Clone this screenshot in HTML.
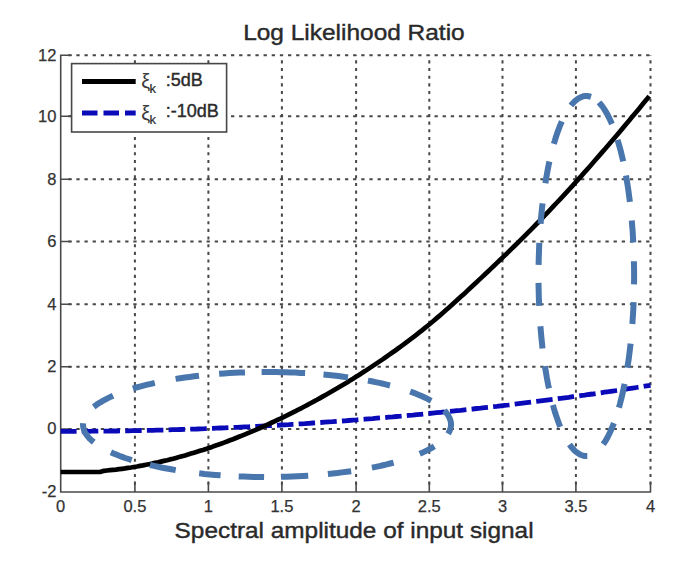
<!DOCTYPE html>
<html><head><meta charset="utf-8"><style>html,body{margin:0;padding:0;background:#fff;}svg{display:block;}</style></head>
<body>
<svg width="685" height="571" viewBox="0 0 685 571">
<rect width="685" height="571" fill="#fff"/>
<path d="M68.20 55.3H71.50M76.34 55.3H79.64M84.48 55.3H87.78M92.62 55.3H95.92M100.76 55.3H104.06M108.90 55.3H112.20M117.04 55.3H120.34M125.18 55.3H128.48M133.32 55.3H136.62M141.46 55.3H144.76M149.60 55.3H152.90M157.74 55.3H161.04M165.88 55.3H169.18M174.02 55.3H177.32M182.16 55.3H185.46M190.30 55.3H193.60M198.44 55.3H201.74M206.58 55.3H209.88M214.72 55.3H218.02M222.86 55.3H226.16M231.00 55.3H234.30M239.14 55.3H242.44M247.28 55.3H250.58M255.42 55.3H258.72M263.56 55.3H266.86M271.70 55.3H275.00M279.84 55.3H283.14M287.98 55.3H291.28M296.12 55.3H299.42M304.26 55.3H307.56M312.40 55.3H315.70M320.54 55.3H323.84M328.68 55.3H331.98M336.82 55.3H340.12M344.96 55.3H348.26M353.10 55.3H356.40M361.24 55.3H364.54M369.38 55.3H372.68M377.52 55.3H380.82M385.66 55.3H388.96M393.80 55.3H397.10M401.94 55.3H405.24M410.08 55.3H413.38M418.22 55.3H421.52M426.36 55.3H429.66M434.50 55.3H437.80M442.64 55.3H445.94M450.78 55.3H454.08M458.92 55.3H462.22M467.06 55.3H470.36M475.20 55.3H478.50M483.34 55.3H486.64M491.48 55.3H494.78M499.62 55.3H502.92M507.76 55.3H511.06M515.90 55.3H519.20M524.04 55.3H527.34M532.18 55.3H535.48M540.32 55.3H543.62M548.46 55.3H551.76M556.60 55.3H559.90M564.74 55.3H568.04M572.88 55.3H576.18M581.02 55.3H584.32M589.16 55.3H592.46M597.30 55.3H600.60M605.44 55.3H608.74M613.58 55.3H616.88M621.72 55.3H625.02M629.86 55.3H633.16M638.00 55.3H641.30M646.14 55.3H649.44M68.20 116.3H71.50M76.34 116.3H79.64M84.48 116.3H87.78M92.62 116.3H95.92M100.76 116.3H104.06M108.90 116.3H112.20M117.04 116.3H120.34M125.18 116.3H128.48M133.32 116.3H136.62M141.46 116.3H144.76M149.60 116.3H152.90M157.74 116.3H161.04M165.88 116.3H169.18M174.02 116.3H177.32M182.16 116.3H185.46M190.30 116.3H193.60M198.44 116.3H201.74M206.58 116.3H209.88M214.72 116.3H218.02M222.86 116.3H226.16M231.00 116.3H234.30M239.14 116.3H242.44M247.28 116.3H250.58M255.42 116.3H258.72M263.56 116.3H266.86M271.70 116.3H275.00M279.84 116.3H283.14M287.98 116.3H291.28M296.12 116.3H299.42M304.26 116.3H307.56M312.40 116.3H315.70M320.54 116.3H323.84M328.68 116.3H331.98M336.82 116.3H340.12M344.96 116.3H348.26M353.10 116.3H356.40M361.24 116.3H364.54M369.38 116.3H372.68M377.52 116.3H380.82M385.66 116.3H388.96M393.80 116.3H397.10M401.94 116.3H405.24M410.08 116.3H413.38M418.22 116.3H421.52M426.36 116.3H429.66M434.50 116.3H437.80M442.64 116.3H445.94M450.78 116.3H454.08M458.92 116.3H462.22M467.06 116.3H470.36M475.20 116.3H478.50M483.34 116.3H486.64M491.48 116.3H494.78M499.62 116.3H502.92M507.76 116.3H511.06M515.90 116.3H519.20M524.04 116.3H527.34M532.18 116.3H535.48M540.32 116.3H543.62M548.46 116.3H551.76M556.60 116.3H559.90M564.74 116.3H568.04M572.88 116.3H576.18M581.02 116.3H584.32M589.16 116.3H592.46M597.30 116.3H600.60M605.44 116.3H608.74M613.58 116.3H616.88M621.72 116.3H625.02M629.86 116.3H633.16M638.00 116.3H641.30M646.14 116.3H649.44M68.20 179.2H71.50M76.34 179.2H79.64M84.48 179.2H87.78M92.62 179.2H95.92M100.76 179.2H104.06M108.90 179.2H112.20M117.04 179.2H120.34M125.18 179.2H128.48M133.32 179.2H136.62M141.46 179.2H144.76M149.60 179.2H152.90M157.74 179.2H161.04M165.88 179.2H169.18M174.02 179.2H177.32M182.16 179.2H185.46M190.30 179.2H193.60M198.44 179.2H201.74M206.58 179.2H209.88M214.72 179.2H218.02M222.86 179.2H226.16M231.00 179.2H234.30M239.14 179.2H242.44M247.28 179.2H250.58M255.42 179.2H258.72M263.56 179.2H266.86M271.70 179.2H275.00M279.84 179.2H283.14M287.98 179.2H291.28M296.12 179.2H299.42M304.26 179.2H307.56M312.40 179.2H315.70M320.54 179.2H323.84M328.68 179.2H331.98M336.82 179.2H340.12M344.96 179.2H348.26M353.10 179.2H356.40M361.24 179.2H364.54M369.38 179.2H372.68M377.52 179.2H380.82M385.66 179.2H388.96M393.80 179.2H397.10M401.94 179.2H405.24M410.08 179.2H413.38M418.22 179.2H421.52M426.36 179.2H429.66M434.50 179.2H437.80M442.64 179.2H445.94M450.78 179.2H454.08M458.92 179.2H462.22M467.06 179.2H470.36M475.20 179.2H478.50M483.34 179.2H486.64M491.48 179.2H494.78M499.62 179.2H502.92M507.76 179.2H511.06M515.90 179.2H519.20M524.04 179.2H527.34M532.18 179.2H535.48M540.32 179.2H543.62M548.46 179.2H551.76M556.60 179.2H559.90M564.74 179.2H568.04M572.88 179.2H576.18M581.02 179.2H584.32M589.16 179.2H592.46M597.30 179.2H600.60M605.44 179.2H608.74M613.58 179.2H616.88M621.72 179.2H625.02M629.86 179.2H633.16M638.00 179.2H641.30M646.14 179.2H649.44M68.20 241.5H71.50M76.34 241.5H79.64M84.48 241.5H87.78M92.62 241.5H95.92M100.76 241.5H104.06M108.90 241.5H112.20M117.04 241.5H120.34M125.18 241.5H128.48M133.32 241.5H136.62M141.46 241.5H144.76M149.60 241.5H152.90M157.74 241.5H161.04M165.88 241.5H169.18M174.02 241.5H177.32M182.16 241.5H185.46M190.30 241.5H193.60M198.44 241.5H201.74M206.58 241.5H209.88M214.72 241.5H218.02M222.86 241.5H226.16M231.00 241.5H234.30M239.14 241.5H242.44M247.28 241.5H250.58M255.42 241.5H258.72M263.56 241.5H266.86M271.70 241.5H275.00M279.84 241.5H283.14M287.98 241.5H291.28M296.12 241.5H299.42M304.26 241.5H307.56M312.40 241.5H315.70M320.54 241.5H323.84M328.68 241.5H331.98M336.82 241.5H340.12M344.96 241.5H348.26M353.10 241.5H356.40M361.24 241.5H364.54M369.38 241.5H372.68M377.52 241.5H380.82M385.66 241.5H388.96M393.80 241.5H397.10M401.94 241.5H405.24M410.08 241.5H413.38M418.22 241.5H421.52M426.36 241.5H429.66M434.50 241.5H437.80M442.64 241.5H445.94M450.78 241.5H454.08M458.92 241.5H462.22M467.06 241.5H470.36M475.20 241.5H478.50M483.34 241.5H486.64M491.48 241.5H494.78M499.62 241.5H502.92M507.76 241.5H511.06M515.90 241.5H519.20M524.04 241.5H527.34M532.18 241.5H535.48M540.32 241.5H543.62M548.46 241.5H551.76M556.60 241.5H559.90M564.74 241.5H568.04M572.88 241.5H576.18M581.02 241.5H584.32M589.16 241.5H592.46M597.30 241.5H600.60M605.44 241.5H608.74M613.58 241.5H616.88M621.72 241.5H625.02M629.86 241.5H633.16M638.00 241.5H641.30M646.14 241.5H649.44M68.20 304.2H71.50M76.34 304.2H79.64M84.48 304.2H87.78M92.62 304.2H95.92M100.76 304.2H104.06M108.90 304.2H112.20M117.04 304.2H120.34M125.18 304.2H128.48M133.32 304.2H136.62M141.46 304.2H144.76M149.60 304.2H152.90M157.74 304.2H161.04M165.88 304.2H169.18M174.02 304.2H177.32M182.16 304.2H185.46M190.30 304.2H193.60M198.44 304.2H201.74M206.58 304.2H209.88M214.72 304.2H218.02M222.86 304.2H226.16M231.00 304.2H234.30M239.14 304.2H242.44M247.28 304.2H250.58M255.42 304.2H258.72M263.56 304.2H266.86M271.70 304.2H275.00M279.84 304.2H283.14M287.98 304.2H291.28M296.12 304.2H299.42M304.26 304.2H307.56M312.40 304.2H315.70M320.54 304.2H323.84M328.68 304.2H331.98M336.82 304.2H340.12M344.96 304.2H348.26M353.10 304.2H356.40M361.24 304.2H364.54M369.38 304.2H372.68M377.52 304.2H380.82M385.66 304.2H388.96M393.80 304.2H397.10M401.94 304.2H405.24M410.08 304.2H413.38M418.22 304.2H421.52M426.36 304.2H429.66M434.50 304.2H437.80M442.64 304.2H445.94M450.78 304.2H454.08M458.92 304.2H462.22M467.06 304.2H470.36M475.20 304.2H478.50M483.34 304.2H486.64M491.48 304.2H494.78M499.62 304.2H502.92M507.76 304.2H511.06M515.90 304.2H519.20M524.04 304.2H527.34M532.18 304.2H535.48M540.32 304.2H543.62M548.46 304.2H551.76M556.60 304.2H559.90M564.74 304.2H568.04M572.88 304.2H576.18M581.02 304.2H584.32M589.16 304.2H592.46M597.30 304.2H600.60M605.44 304.2H608.74M613.58 304.2H616.88M621.72 304.2H625.02M629.86 304.2H633.16M638.00 304.2H641.30M646.14 304.2H649.44M68.20 366.7H71.50M76.34 366.7H79.64M84.48 366.7H87.78M92.62 366.7H95.92M100.76 366.7H104.06M108.90 366.7H112.20M117.04 366.7H120.34M125.18 366.7H128.48M133.32 366.7H136.62M141.46 366.7H144.76M149.60 366.7H152.90M157.74 366.7H161.04M165.88 366.7H169.18M174.02 366.7H177.32M182.16 366.7H185.46M190.30 366.7H193.60M198.44 366.7H201.74M206.58 366.7H209.88M214.72 366.7H218.02M222.86 366.7H226.16M231.00 366.7H234.30M239.14 366.7H242.44M247.28 366.7H250.58M255.42 366.7H258.72M263.56 366.7H266.86M271.70 366.7H275.00M279.84 366.7H283.14M287.98 366.7H291.28M296.12 366.7H299.42M304.26 366.7H307.56M312.40 366.7H315.70M320.54 366.7H323.84M328.68 366.7H331.98M336.82 366.7H340.12M344.96 366.7H348.26M353.10 366.7H356.40M361.24 366.7H364.54M369.38 366.7H372.68M377.52 366.7H380.82M385.66 366.7H388.96M393.80 366.7H397.10M401.94 366.7H405.24M410.08 366.7H413.38M418.22 366.7H421.52M426.36 366.7H429.66M434.50 366.7H437.80M442.64 366.7H445.94M450.78 366.7H454.08M458.92 366.7H462.22M467.06 366.7H470.36M475.20 366.7H478.50M483.34 366.7H486.64M491.48 366.7H494.78M499.62 366.7H502.92M507.76 366.7H511.06M515.90 366.7H519.20M524.04 366.7H527.34M532.18 366.7H535.48M540.32 366.7H543.62M548.46 366.7H551.76M556.60 366.7H559.90M564.74 366.7H568.04M572.88 366.7H576.18M581.02 366.7H584.32M589.16 366.7H592.46M597.30 366.7H600.60M605.44 366.7H608.74M613.58 366.7H616.88M621.72 366.7H625.02M629.86 366.7H633.16M638.00 366.7H641.30M646.14 366.7H649.44M68.20 429H71.50M76.34 429H79.64M84.48 429H87.78M92.62 429H95.92M100.76 429H104.06M108.90 429H112.20M117.04 429H120.34M125.18 429H128.48M133.32 429H136.62M141.46 429H144.76M149.60 429H152.90M157.74 429H161.04M165.88 429H169.18M174.02 429H177.32M182.16 429H185.46M190.30 429H193.60M198.44 429H201.74M206.58 429H209.88M214.72 429H218.02M222.86 429H226.16M231.00 429H234.30M239.14 429H242.44M247.28 429H250.58M255.42 429H258.72M263.56 429H266.86M271.70 429H275.00M279.84 429H283.14M287.98 429H291.28M296.12 429H299.42M304.26 429H307.56M312.40 429H315.70M320.54 429H323.84M328.68 429H331.98M336.82 429H340.12M344.96 429H348.26M353.10 429H356.40M361.24 429H364.54M369.38 429H372.68M377.52 429H380.82M385.66 429H388.96M393.80 429H397.10M401.94 429H405.24M410.08 429H413.38M418.22 429H421.52M426.36 429H429.66M434.50 429H437.80M442.64 429H445.94M450.78 429H454.08M458.92 429H462.22M467.06 429H470.36M475.20 429H478.50M483.34 429H486.64M491.48 429H494.78M499.62 429H502.92M507.76 429H511.06M515.90 429H519.20M524.04 429H527.34M532.18 429H535.48M540.32 429H543.62M548.46 429H551.76M556.60 429H559.90M564.74 429H568.04M572.88 429H576.18M581.02 429H584.32M589.16 429H592.46M597.30 429H600.60M605.44 429H608.74M613.58 429H616.88M621.72 429H625.02M629.86 429H633.16M638.00 429H641.30M646.14 429H649.44M134.9 484.73V481.63M134.9 477.07V473.97M134.9 469.41V466.31M134.9 461.75V458.65M134.9 454.09V450.99M134.9 446.43V443.33M134.9 438.77V435.67M134.9 431.11V428.01M134.9 423.45V420.35M134.9 415.79V412.69M134.9 408.13V405.03M134.9 400.47V397.37M134.9 392.81V389.71M134.9 385.15V382.05M134.9 377.49V374.39M134.9 369.83V366.73M134.9 362.17V359.07M134.9 354.51V351.41M134.9 346.85V343.75M134.9 339.19V336.09M134.9 331.53V328.43M134.9 323.87V320.77M134.9 316.21V313.11M134.9 308.55V305.45M134.9 300.89V297.79M134.9 293.23V290.13M134.9 285.57V282.47M134.9 277.91V274.81M134.9 270.25V267.15M134.9 262.59V259.49M134.9 254.93V251.83M134.9 247.27V244.17M134.9 239.61V236.51M134.9 231.95V228.85M134.9 224.29V221.19M134.9 216.63V213.53M134.9 208.97V205.87M134.9 201.31V198.21M134.9 193.65V190.55M134.9 185.99V182.89M134.9 178.33V175.23M134.9 170.67V167.57M134.9 163.01V159.91M134.9 155.35V152.25M134.9 147.69V144.59M134.9 140.03V136.93M134.9 132.37V129.27M134.9 124.71V121.61M134.9 117.05V113.95M134.9 109.39V106.29M134.9 101.73V98.63M134.9 94.07V90.97M134.9 86.41V83.31M134.9 78.75V75.65M134.9 71.09V67.99M134.9 63.43V60.33M134.9 55.77V55.30M208.4 484.73V481.63M208.4 477.07V473.97M208.4 469.41V466.31M208.4 461.75V458.65M208.4 454.09V450.99M208.4 446.43V443.33M208.4 438.77V435.67M208.4 431.11V428.01M208.4 423.45V420.35M208.4 415.79V412.69M208.4 408.13V405.03M208.4 400.47V397.37M208.4 392.81V389.71M208.4 385.15V382.05M208.4 377.49V374.39M208.4 369.83V366.73M208.4 362.17V359.07M208.4 354.51V351.41M208.4 346.85V343.75M208.4 339.19V336.09M208.4 331.53V328.43M208.4 323.87V320.77M208.4 316.21V313.11M208.4 308.55V305.45M208.4 300.89V297.79M208.4 293.23V290.13M208.4 285.57V282.47M208.4 277.91V274.81M208.4 270.25V267.15M208.4 262.59V259.49M208.4 254.93V251.83M208.4 247.27V244.17M208.4 239.61V236.51M208.4 231.95V228.85M208.4 224.29V221.19M208.4 216.63V213.53M208.4 208.97V205.87M208.4 201.31V198.21M208.4 193.65V190.55M208.4 185.99V182.89M208.4 178.33V175.23M208.4 170.67V167.57M208.4 163.01V159.91M208.4 155.35V152.25M208.4 147.69V144.59M208.4 140.03V136.93M208.4 132.37V129.27M208.4 124.71V121.61M208.4 117.05V113.95M208.4 109.39V106.29M208.4 101.73V98.63M208.4 94.07V90.97M208.4 86.41V83.31M208.4 78.75V75.65M208.4 71.09V67.99M208.4 63.43V60.33M208.4 55.77V55.30M281.9 484.73V481.63M281.9 477.07V473.97M281.9 469.41V466.31M281.9 461.75V458.65M281.9 454.09V450.99M281.9 446.43V443.33M281.9 438.77V435.67M281.9 431.11V428.01M281.9 423.45V420.35M281.9 415.79V412.69M281.9 408.13V405.03M281.9 400.47V397.37M281.9 392.81V389.71M281.9 385.15V382.05M281.9 377.49V374.39M281.9 369.83V366.73M281.9 362.17V359.07M281.9 354.51V351.41M281.9 346.85V343.75M281.9 339.19V336.09M281.9 331.53V328.43M281.9 323.87V320.77M281.9 316.21V313.11M281.9 308.55V305.45M281.9 300.89V297.79M281.9 293.23V290.13M281.9 285.57V282.47M281.9 277.91V274.81M281.9 270.25V267.15M281.9 262.59V259.49M281.9 254.93V251.83M281.9 247.27V244.17M281.9 239.61V236.51M281.9 231.95V228.85M281.9 224.29V221.19M281.9 216.63V213.53M281.9 208.97V205.87M281.9 201.31V198.21M281.9 193.65V190.55M281.9 185.99V182.89M281.9 178.33V175.23M281.9 170.67V167.57M281.9 163.01V159.91M281.9 155.35V152.25M281.9 147.69V144.59M281.9 140.03V136.93M281.9 132.37V129.27M281.9 124.71V121.61M281.9 117.05V113.95M281.9 109.39V106.29M281.9 101.73V98.63M281.9 94.07V90.97M281.9 86.41V83.31M281.9 78.75V75.65M281.9 71.09V67.99M281.9 63.43V60.33M281.9 55.77V55.30M356.1 484.73V481.63M356.1 477.07V473.97M356.1 469.41V466.31M356.1 461.75V458.65M356.1 454.09V450.99M356.1 446.43V443.33M356.1 438.77V435.67M356.1 431.11V428.01M356.1 423.45V420.35M356.1 415.79V412.69M356.1 408.13V405.03M356.1 400.47V397.37M356.1 392.81V389.71M356.1 385.15V382.05M356.1 377.49V374.39M356.1 369.83V366.73M356.1 362.17V359.07M356.1 354.51V351.41M356.1 346.85V343.75M356.1 339.19V336.09M356.1 331.53V328.43M356.1 323.87V320.77M356.1 316.21V313.11M356.1 308.55V305.45M356.1 300.89V297.79M356.1 293.23V290.13M356.1 285.57V282.47M356.1 277.91V274.81M356.1 270.25V267.15M356.1 262.59V259.49M356.1 254.93V251.83M356.1 247.27V244.17M356.1 239.61V236.51M356.1 231.95V228.85M356.1 224.29V221.19M356.1 216.63V213.53M356.1 208.97V205.87M356.1 201.31V198.21M356.1 193.65V190.55M356.1 185.99V182.89M356.1 178.33V175.23M356.1 170.67V167.57M356.1 163.01V159.91M356.1 155.35V152.25M356.1 147.69V144.59M356.1 140.03V136.93M356.1 132.37V129.27M356.1 124.71V121.61M356.1 117.05V113.95M356.1 109.39V106.29M356.1 101.73V98.63M356.1 94.07V90.97M356.1 86.41V83.31M356.1 78.75V75.65M356.1 71.09V67.99M356.1 63.43V60.33M356.1 55.77V55.30M429.3 484.73V481.63M429.3 477.07V473.97M429.3 469.41V466.31M429.3 461.75V458.65M429.3 454.09V450.99M429.3 446.43V443.33M429.3 438.77V435.67M429.3 431.11V428.01M429.3 423.45V420.35M429.3 415.79V412.69M429.3 408.13V405.03M429.3 400.47V397.37M429.3 392.81V389.71M429.3 385.15V382.05M429.3 377.49V374.39M429.3 369.83V366.73M429.3 362.17V359.07M429.3 354.51V351.41M429.3 346.85V343.75M429.3 339.19V336.09M429.3 331.53V328.43M429.3 323.87V320.77M429.3 316.21V313.11M429.3 308.55V305.45M429.3 300.89V297.79M429.3 293.23V290.13M429.3 285.57V282.47M429.3 277.91V274.81M429.3 270.25V267.15M429.3 262.59V259.49M429.3 254.93V251.83M429.3 247.27V244.17M429.3 239.61V236.51M429.3 231.95V228.85M429.3 224.29V221.19M429.3 216.63V213.53M429.3 208.97V205.87M429.3 201.31V198.21M429.3 193.65V190.55M429.3 185.99V182.89M429.3 178.33V175.23M429.3 170.67V167.57M429.3 163.01V159.91M429.3 155.35V152.25M429.3 147.69V144.59M429.3 140.03V136.93M429.3 132.37V129.27M429.3 124.71V121.61M429.3 117.05V113.95M429.3 109.39V106.29M429.3 101.73V98.63M429.3 94.07V90.97M429.3 86.41V83.31M429.3 78.75V75.65M429.3 71.09V67.99M429.3 63.43V60.33M429.3 55.77V55.30M502.5 484.73V481.63M502.5 477.07V473.97M502.5 469.41V466.31M502.5 461.75V458.65M502.5 454.09V450.99M502.5 446.43V443.33M502.5 438.77V435.67M502.5 431.11V428.01M502.5 423.45V420.35M502.5 415.79V412.69M502.5 408.13V405.03M502.5 400.47V397.37M502.5 392.81V389.71M502.5 385.15V382.05M502.5 377.49V374.39M502.5 369.83V366.73M502.5 362.17V359.07M502.5 354.51V351.41M502.5 346.85V343.75M502.5 339.19V336.09M502.5 331.53V328.43M502.5 323.87V320.77M502.5 316.21V313.11M502.5 308.55V305.45M502.5 300.89V297.79M502.5 293.23V290.13M502.5 285.57V282.47M502.5 277.91V274.81M502.5 270.25V267.15M502.5 262.59V259.49M502.5 254.93V251.83M502.5 247.27V244.17M502.5 239.61V236.51M502.5 231.95V228.85M502.5 224.29V221.19M502.5 216.63V213.53M502.5 208.97V205.87M502.5 201.31V198.21M502.5 193.65V190.55M502.5 185.99V182.89M502.5 178.33V175.23M502.5 170.67V167.57M502.5 163.01V159.91M502.5 155.35V152.25M502.5 147.69V144.59M502.5 140.03V136.93M502.5 132.37V129.27M502.5 124.71V121.61M502.5 117.05V113.95M502.5 109.39V106.29M502.5 101.73V98.63M502.5 94.07V90.97M502.5 86.41V83.31M502.5 78.75V75.65M502.5 71.09V67.99M502.5 63.43V60.33M502.5 55.77V55.30M575.9 484.73V481.63M575.9 477.07V473.97M575.9 469.41V466.31M575.9 461.75V458.65M575.9 454.09V450.99M575.9 446.43V443.33M575.9 438.77V435.67M575.9 431.11V428.01M575.9 423.45V420.35M575.9 415.79V412.69M575.9 408.13V405.03M575.9 400.47V397.37M575.9 392.81V389.71M575.9 385.15V382.05M575.9 377.49V374.39M575.9 369.83V366.73M575.9 362.17V359.07M575.9 354.51V351.41M575.9 346.85V343.75M575.9 339.19V336.09M575.9 331.53V328.43M575.9 323.87V320.77M575.9 316.21V313.11M575.9 308.55V305.45M575.9 300.89V297.79M575.9 293.23V290.13M575.9 285.57V282.47M575.9 277.91V274.81M575.9 270.25V267.15M575.9 262.59V259.49M575.9 254.93V251.83M575.9 247.27V244.17M575.9 239.61V236.51M575.9 231.95V228.85M575.9 224.29V221.19M575.9 216.63V213.53M575.9 208.97V205.87M575.9 201.31V198.21M575.9 193.65V190.55M575.9 185.99V182.89M575.9 178.33V175.23M575.9 170.67V167.57M575.9 163.01V159.91M575.9 155.35V152.25M575.9 147.69V144.59M575.9 140.03V136.93M575.9 132.37V129.27M575.9 124.71V121.61M575.9 117.05V113.95M575.9 109.39V106.29M575.9 101.73V98.63M575.9 94.07V90.97M575.9 86.41V83.31M575.9 78.75V75.65M575.9 71.09V67.99M575.9 63.43V60.33M575.9 55.77V55.30M650.5 484.73V481.63M650.5 477.07V473.97M650.5 469.41V466.31M650.5 461.75V458.65M650.5 454.09V450.99M650.5 446.43V443.33M650.5 438.77V435.67M650.5 431.11V428.01M650.5 423.45V420.35M650.5 415.79V412.69M650.5 408.13V405.03M650.5 400.47V397.37M650.5 392.81V389.71M650.5 385.15V382.05M650.5 377.49V374.39M650.5 369.83V366.73M650.5 362.17V359.07M650.5 354.51V351.41M650.5 346.85V343.75M650.5 339.19V336.09M650.5 331.53V328.43M650.5 323.87V320.77M650.5 316.21V313.11M650.5 308.55V305.45M650.5 300.89V297.79M650.5 293.23V290.13M650.5 285.57V282.47M650.5 277.91V274.81M650.5 270.25V267.15M650.5 262.59V259.49M650.5 254.93V251.83M650.5 247.27V244.17M650.5 239.61V236.51M650.5 231.95V228.85M650.5 224.29V221.19M650.5 216.63V213.53M650.5 208.97V205.87M650.5 201.31V198.21M650.5 193.65V190.55M650.5 185.99V182.89M650.5 178.33V175.23M650.5 170.67V167.57M650.5 163.01V159.91M650.5 155.35V152.25M650.5 147.69V144.59M650.5 140.03V136.93M650.5 132.37V129.27M650.5 124.71V121.61M650.5 117.05V113.95M650.5 109.39V106.29M650.5 101.73V98.63M650.5 94.07V90.97M650.5 86.41V83.31M650.5 78.75V75.65M650.5 71.09V67.99M650.5 63.43V60.33M650.5 55.77V55.30" stroke="#484848" stroke-width="2.0" fill="none"/>
<path d="M60.7 54.5V492H651.1M60.7 55.3h11M60.7 116.3h11M60.7 179.2h11M60.7 241.5h11M60.7 304.2h11M60.7 366.7h11M60.7 429h11M60.7 492h11M60.7 492v-10.5M134.9 492v-10.5M208.4 492v-10.5M281.9 492v-10.5M356.1 492v-10.5M429.3 492v-10.5M502.5 492v-10.5M575.9 492v-10.5M650.5 492v-10.5" stroke="#4a4a4a" stroke-width="1.6" fill="none"/>
<polyline points="60.7,431.3 64.7,431.3 68.7,431.3 72.7,431.3 76.7,431.3 80.7,431.3 84.7,431.3 88.7,431.3 92.7,431.2 96.7,431.2 100.7,431.1 104.7,431.1 108.7,431.1 112.7,431.0 116.7,431.0 120.7,430.9 124.7,430.8 128.7,430.8 132.7,430.7 136.7,430.6 140.7,430.5 144.7,430.5 148.7,430.4 152.7,430.3 156.7,430.2 160.7,430.1 164.7,430.0 168.7,429.9 172.7,429.7 176.7,429.6 180.7,429.5 184.7,429.4 188.7,429.2 192.7,429.1 196.7,429.0 200.7,428.8 204.7,428.7 208.7,428.5 212.7,428.4 216.7,428.2 220.7,428.0 224.7,427.9 228.7,427.7 232.7,427.5 236.7,427.3 240.7,427.1 244.7,426.9 248.7,426.8 252.7,426.6 256.7,426.3 260.7,426.1 264.7,425.9 268.7,425.7 272.7,425.5 276.7,425.3 280.7,425.0 284.7,424.8 288.7,424.6 292.7,424.3 296.7,424.1 300.7,423.8 304.7,423.6 308.7,423.3 312.7,423.0 316.7,422.8 320.7,422.5 324.7,422.2 328.7,421.9 332.7,421.7 336.7,421.4 340.7,421.1 344.7,420.8 348.7,420.5 352.7,420.2 356.7,419.9 360.7,419.5 364.7,419.2 368.7,418.9 372.7,418.6 376.7,418.2 380.7,417.9 384.7,417.6 388.7,417.2 392.7,416.9 396.7,416.5 400.7,416.2 404.7,415.8 408.7,415.4 412.7,415.1 416.7,414.7 420.7,414.3 424.7,413.9 428.7,413.5 432.7,413.1 436.7,412.7 440.7,412.3 444.7,411.9 448.7,411.5 452.7,411.1 456.7,410.7 460.7,410.3 464.7,409.8 468.7,409.4 472.7,409.0 476.7,408.5 480.7,408.1 484.7,407.6 488.7,407.2 492.7,406.7 496.7,406.3 500.7,405.8 504.7,405.3 508.7,404.9 512.7,404.4 516.7,403.9 520.7,403.4 524.7,402.9 528.7,402.4 532.7,401.9 536.7,401.4 540.7,400.9 544.7,400.4 548.7,399.9 552.7,399.4 556.7,398.9 560.7,398.3 564.7,397.8 568.7,397.3 572.7,396.7 576.7,396.2 580.7,395.6 584.7,395.1 588.7,394.5 592.7,394.0 596.7,393.4 600.7,392.8 604.7,392.2 608.7,391.7 612.7,391.1 616.7,390.5 620.7,389.9 624.7,389.3 628.7,388.7 632.7,388.1 636.7,387.5 640.7,386.9 644.7,386.2 648.7,385.6 650.5,385.3" fill="none" stroke="#0a0ab8" stroke-width="4.8" stroke-dasharray="16.5 5.2" stroke-dashoffset="0.6"/>
<polyline points="60.7,472.0 80.0,472.0 100.0,472.0 104.0,470.8 107.0,470.5 110.0,470.2 113.0,469.9 116.0,469.6 119.0,469.2 122.0,468.8 125.0,468.4 128.0,467.9 131.0,467.5 134.0,467.0 137.0,466.5 140.0,465.9 143.0,465.4 146.0,464.8 149.0,464.2 152.0,463.6 155.0,462.9 158.0,462.3 161.0,461.6 164.0,460.9 167.0,460.2 170.0,459.4 173.0,458.7 176.0,457.9 179.0,457.1 182.0,456.2 185.0,455.4 188.0,454.5 191.0,453.6 194.0,452.7 197.0,451.8 200.0,450.8 203.0,449.9 206.0,448.9 209.0,447.9 212.0,446.9 215.0,445.8 218.0,444.8 221.0,443.7 224.0,442.6 227.0,441.5 230.0,440.3 233.0,439.2 236.0,438.0 239.0,436.8 242.0,435.6 245.0,434.4 248.0,433.1 251.0,431.9 254.0,430.6 257.0,429.3 260.0,428.0 263.0,426.6 266.0,425.3 269.0,423.9 272.0,422.5 275.0,421.1 278.0,419.7 281.0,418.3 284.0,416.8 287.0,415.4 290.0,413.9 293.0,412.4 296.0,410.9 299.0,409.3 302.0,407.8 305.0,406.2 308.0,404.6 311.0,403.0 314.0,401.4 317.0,399.8 320.0,398.1 323.0,396.4 326.0,394.7 329.0,393.0 332.0,391.3 335.0,389.5 338.0,387.8 341.0,386.0 344.0,384.2 347.0,382.4 350.0,380.5 353.0,378.7 356.0,376.8 359.0,374.9 362.0,373.0 365.0,371.1 368.0,369.1 371.0,367.1 374.0,365.1 377.0,363.1 380.0,361.1 383.0,359.1 386.0,357.0 389.0,354.9 392.0,352.8 395.0,350.7 398.0,348.5 401.0,346.4 404.0,344.2 407.0,341.9 410.0,339.7 413.0,337.4 416.0,335.1 419.0,332.7 422.0,330.3 425.0,327.9 428.0,325.5 431.0,323.0 434.0,320.5 437.0,317.9 440.0,315.4 443.0,312.8 446.0,310.1 449.0,307.5 452.0,304.8 455.0,302.1 458.0,299.3 461.0,296.6 464.0,293.9 467.0,291.1 470.0,288.3 473.0,285.5 476.0,282.7 479.0,279.9 482.0,277.1 485.0,274.3 488.0,271.5 491.0,268.6 494.0,265.8 497.0,262.9 500.0,260.0 503.0,257.1 506.0,254.3 509.0,251.3 512.0,248.4 515.0,245.5 518.0,242.6 521.0,239.6 524.0,236.6 527.0,233.6 530.0,230.6 533.0,227.6 536.0,224.5 539.0,221.5 542.0,218.4 545.0,215.2 548.0,212.1 551.0,208.9 554.0,205.7 557.0,202.5 560.0,199.3 563.0,196.1 566.0,192.8 569.0,189.6 572.0,186.3 575.0,183.0 578.0,179.6 581.0,176.3 584.0,172.9 587.0,169.6 590.0,166.2 593.0,162.8 596.0,159.3 599.0,155.9 602.0,152.4 605.0,149.0 608.0,145.5 611.0,142.0 614.0,138.5 617.0,135.0 620.0,131.4 623.0,127.9 626.0,124.3 629.0,120.7 632.0,117.1 635.0,113.5 638.0,109.9 641.0,106.3 644.0,102.6 647.0,99.0 649.3,96.2" fill="none" stroke="#000" stroke-width="4.7" stroke-linejoin="round"/>
<path d="M83.1 423.2L83.0 424.6L83.1 426.0L83.3 427.4L83.6 428.7L84.1 430.1L84.6 431.5L85.3 432.9L86.2 434.2L87.1 435.6L88.2 436.9L89.4 438.3L90.8 439.6L92.2 440.9L93.8 442.2M93.7 406.9L95.4 405.6L97.2 404.3L99.1 403.0L101.2 401.8L103.3 400.5L105.6 399.3L108.0 398.1L110.5 396.9L113.1 395.7M132.9 388.6L136.3 387.5L139.8 386.6L143.4 385.6L147.2 384.7L151.0 383.8L154.8 382.9M175.6 378.9L180.2 378.2L184.8 377.5L189.5 376.9L194.2 376.3L199.0 375.7M219.1 373.8L224.2 373.4L229.4 373.1L234.5 372.8L239.7 372.6L245.0 372.4M261.6 372.0L266.5 372.0L271.3 372.0L276.2 372.1L281.1 372.2L285.9 372.3L290.7 372.4L295.5 372.6L300.3 372.9L305.1 373.1M323.5 374.5L328.5 375.0L333.5 375.5L338.4 376.1L343.2 376.7L348.0 377.4M367.9 380.6L371.7 381.3L375.5 382.1L379.3 382.9L382.9 383.7L386.5 384.6L390.0 385.5M410.2 391.5L413.2 392.6L416.1 393.7L418.9 394.9L421.6 396.0L424.2 397.2L426.6 398.4L429.0 399.6L431.2 400.8M444.3 410.5L445.6 411.8L446.7 413.2L447.6 414.5L448.5 415.9L449.2 417.2L449.8 418.6L450.3 420.0L450.7 421.4L450.9 422.7L451.0 424.1L451.0 425.5L450.8 426.9L450.5 428.2L450.1 429.6L449.6 431.0L448.9 432.3L448.1 433.7M434.3 446.3L432.2 447.6L429.9 448.9L427.5 450.2L425.0 451.4L422.4 452.6L419.7 453.8M393.6 462.6L390.2 463.5L386.7 464.4L383.1 465.2L379.4 466.1L375.7 466.9L371.9 467.6M351.2 471.2L346.6 471.8L342.0 472.4L337.4 473.0L332.7 473.5L327.9 474.0M308.2 475.7L302.8 476.0L297.4 476.3L291.9 476.5L286.5 476.7L281.0 476.8M264.1 477.0L259.0 476.9L253.9 476.9L248.8 476.7L243.7 476.6L238.7 476.4M220.6 475.3L215.2 474.9L209.8 474.4L204.4 473.9L199.2 473.3M175.7 470.1L171.2 469.3L166.8 468.5L162.4 467.7L158.2 466.8L154.0 465.9L150.0 465.0M131.7 460.1L128.4 459.0L125.2 458.0L122.2 456.9L119.2 455.8L116.3 454.6L113.5 453.5L110.9 452.3" fill="none" stroke="#4a76ae" stroke-width="6.0"/>
<path d="M571.0 105.5L572.2 104.0L573.4 102.7L574.6 101.4L575.9 100.3L577.1 99.4L578.4 98.5L579.6 97.8L580.9 97.2L582.1 96.7L583.4 96.3L584.6 96.1L585.9 96.0L587.2 96.0L588.4 96.2L589.7 96.5L591.0 96.9M599.0 102.4L600.2 103.8L601.4 105.2L602.6 106.8L603.9 108.6L605.0 110.4L606.2 112.4L607.4 114.5L608.5 116.7L609.7 119.0L610.8 121.4L611.9 124.0M617.5 139.8L618.5 143.1L619.5 146.6L620.5 150.1L621.4 153.8L622.3 157.5L623.2 161.4M626.0 175.5L626.7 179.7L627.4 184.0L628.1 188.4L628.7 192.8L629.3 197.3L629.9 201.9M631.8 220.5L632.1 224.9L632.5 229.2L632.8 233.6L633.0 238.0L633.3 242.5M633.9 261.3L634.0 265.9L634.1 270.5L634.1 275.1L634.1 279.8L634.0 284.4M633.6 302.1L633.4 307.6L633.1 313.1L632.7 318.6L632.4 324.0M630.6 343.6L630.0 348.6L629.4 353.5L628.8 358.3L628.1 363.1L627.4 367.8M624.6 383.8L623.8 387.5L623.1 391.0L622.3 394.5L621.5 397.9L620.6 401.2L619.8 404.5L618.9 407.6M613.9 423.1L612.9 425.7L611.9 428.1L610.8 430.5L609.8 432.8L608.7 435.0L607.7 437.0L606.6 439.0L605.5 440.9L604.4 442.6L603.2 444.3M587.3 456.0L586.1 456.0L584.9 455.9L583.7 455.7L582.5 455.4L581.3 455.0L580.1 454.5L578.9 453.8L577.7 453.0L576.5 452.2L575.3 451.2L574.1 450.1L573.0 448.8L571.8 447.5L570.7 446.1L569.5 444.5M560.2 426.8L559.1 424.0L558.0 421.1L557.0 418.1L555.9 415.0L554.9 411.8L553.9 408.5L553.0 405.1M549.0 388.4L548.2 384.8L547.5 381.2L546.8 377.5L546.2 373.7L545.5 369.9L544.9 366.1M542.5 348.5L542.1 344.1L541.6 339.7L541.2 335.2L540.8 330.7L540.4 326.2M539.2 305.9L539.0 301.4L538.8 296.8L538.7 292.2L538.6 287.5L538.5 282.9M538.6 264.9L538.7 259.3L538.9 253.8L539.1 248.4L539.3 242.9M540.6 223.7L541.0 218.5L541.5 213.4L542.0 208.3L542.6 203.3M545.4 183.2L546.1 178.6L546.9 174.2L547.7 169.9L548.5 165.6L549.4 161.5M553.8 143.9L554.8 140.8L555.7 137.7L556.7 134.7L557.7 131.8L558.7 129.1L559.7 126.4L560.8 123.8L561.8 121.3" fill="none" stroke="#4a76ae" stroke-width="6.0"/>
<rect x="71.6" y="63.6" width="155" height="68.4" fill="#fff" stroke="#474747" stroke-width="1.6"/>
<line x1="82" y1="81.4" x2="135.7" y2="81.4" stroke="#000" stroke-width="5"/>
<line x1="82" y1="113" x2="135.7" y2="113" stroke="#0a0ab8" stroke-width="4.8" stroke-dasharray="15.5 6"/>
<text x="243.2" y="40.4" font-family="Liberation Sans, sans-serif" font-size="22" text-anchor="start" fill="#2a2a2a" stroke="#2a2a2a" stroke-width="0.4" textLength="221.5" lengthAdjust="spacingAndGlyphs" >Log Likelihood Ratio</text>
<text x="174.6" y="538.2" font-family="Liberation Sans, sans-serif" font-size="22" text-anchor="start" fill="#2a2a2a" stroke="#2a2a2a" stroke-width="0.4" textLength="359" lengthAdjust="spacingAndGlyphs" >Spectral amplitude of input signal</text>
<text x="56.4" y="60.599999999999994" font-family="Liberation Sans, sans-serif" font-size="16.5" text-anchor="end" fill="#333" stroke="#333" stroke-width="0.25" >12</text>
<text x="56.4" y="121.6" font-family="Liberation Sans, sans-serif" font-size="16.5" text-anchor="end" fill="#333" stroke="#333" stroke-width="0.25" >10</text>
<text x="56.4" y="184.5" font-family="Liberation Sans, sans-serif" font-size="16.5" text-anchor="end" fill="#333" stroke="#333" stroke-width="0.25" >8</text>
<text x="56.4" y="246.8" font-family="Liberation Sans, sans-serif" font-size="16.5" text-anchor="end" fill="#333" stroke="#333" stroke-width="0.25" >6</text>
<text x="56.4" y="309.5" font-family="Liberation Sans, sans-serif" font-size="16.5" text-anchor="end" fill="#333" stroke="#333" stroke-width="0.25" >4</text>
<text x="56.4" y="372.0" font-family="Liberation Sans, sans-serif" font-size="16.5" text-anchor="end" fill="#333" stroke="#333" stroke-width="0.25" >2</text>
<text x="56.4" y="434.3" font-family="Liberation Sans, sans-serif" font-size="16.5" text-anchor="end" fill="#333" stroke="#333" stroke-width="0.25" >0</text>
<text x="56.4" y="497.3" font-family="Liberation Sans, sans-serif" font-size="16.5" text-anchor="end" fill="#333" stroke="#333" stroke-width="0.25" >-2</text>
<text x="60.7" y="511.6" font-family="Liberation Sans, sans-serif" font-size="16.5" text-anchor="middle" fill="#333" stroke="#333" stroke-width="0.25" >0</text>
<text x="134.9" y="511.6" font-family="Liberation Sans, sans-serif" font-size="16.5" text-anchor="middle" fill="#333" stroke="#333" stroke-width="0.25" >0.5</text>
<text x="208.4" y="511.6" font-family="Liberation Sans, sans-serif" font-size="16.5" text-anchor="middle" fill="#333" stroke="#333" stroke-width="0.25" >1</text>
<text x="281.9" y="511.6" font-family="Liberation Sans, sans-serif" font-size="16.5" text-anchor="middle" fill="#333" stroke="#333" stroke-width="0.25" >1.5</text>
<text x="356.1" y="511.6" font-family="Liberation Sans, sans-serif" font-size="16.5" text-anchor="middle" fill="#333" stroke="#333" stroke-width="0.25" >2</text>
<text x="429.3" y="511.6" font-family="Liberation Sans, sans-serif" font-size="16.5" text-anchor="middle" fill="#333" stroke="#333" stroke-width="0.25" >2.5</text>
<text x="502.5" y="511.6" font-family="Liberation Sans, sans-serif" font-size="16.5" text-anchor="middle" fill="#333" stroke="#333" stroke-width="0.25" >3</text>
<text x="575.9" y="511.6" font-family="Liberation Sans, sans-serif" font-size="16.5" text-anchor="middle" fill="#333" stroke="#333" stroke-width="0.25" >3.5</text>
<text x="650.5" y="511.6" font-family="Liberation Sans, sans-serif" font-size="16.5" text-anchor="middle" fill="#333" stroke="#333" stroke-width="0.25" >4</text>
<text x="141.3" y="88.3" font-family="Liberation Sans, sans-serif" font-size="20" text-anchor="start" fill="#3a3a3a" >ξ</text>
<text x="149.5" y="92.5" font-family="Liberation Sans, sans-serif" font-size="13" text-anchor="start" fill="#2a2a2a" stroke="#2a2a2a" stroke-width="0.2" >k</text>
<text x="165.8" y="85.6" font-family="Liberation Sans, sans-serif" font-size="18" text-anchor="start" fill="#2a2a2a" stroke="#2a2a2a" stroke-width="0.4" >:5dB</text>
<text x="141.3" y="119.6" font-family="Liberation Sans, sans-serif" font-size="20" text-anchor="start" fill="#3a3a3a" >ξ</text>
<text x="149.5" y="123.8" font-family="Liberation Sans, sans-serif" font-size="13" text-anchor="start" fill="#2a2a2a" stroke="#2a2a2a" stroke-width="0.2" >k</text>
<text x="165.8" y="117.3" font-family="Liberation Sans, sans-serif" font-size="18" text-anchor="start" fill="#2a2a2a" stroke="#2a2a2a" stroke-width="0.4" >:-10dB</text>
</svg>
</body></html>
